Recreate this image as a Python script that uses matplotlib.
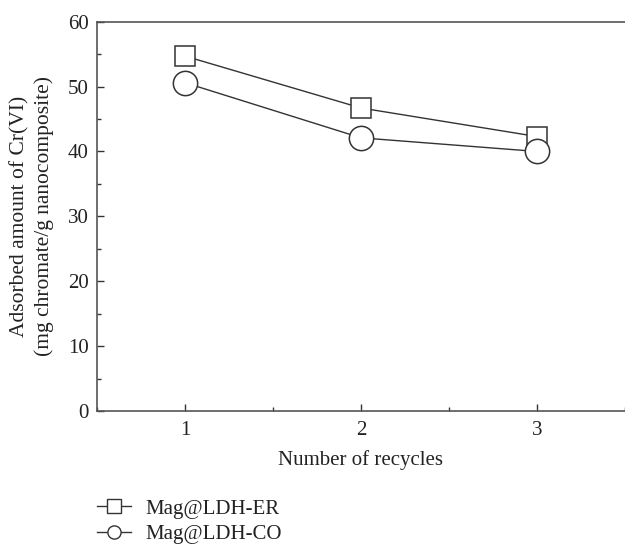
import matplotlib
matplotlib.use("Agg")
from matplotlib import pyplot as plt
from matplotlib.lines import Line2D
from matplotlib.ticker import MultipleLocator

# values
recycles = [1, 2, 3]
er_values = [54.7, 46.7, 42.3]
co_values = [50.6, 42.1, 40.0]
series_labels = ["Mag@LDH-ER", "Mag@LDH-CO"]
series_markers = ["s", "o"]

plt.rcParams['font.family'] = ['Liberation Serif', 'DejaVu Serif']
plt.rcParams['font.size'] = 15

ink = "#333333"
text_color = "#222222"
W, H = 625, 544
fig = plt.figure(figsize=(W / 100, H / 100), dpi=100)
ax = fig.add_axes([97 / W, 1 - 411 / H, 528 / W, (411 - 21.7) / H])

ax.plot(recycles, er_values, color=ink, lw=1.0, marker="s", ms=15,
        mfc="white", mec=ink, mew=1.1, zorder=3)
ax.plot(recycles, co_values, color=ink, lw=1.0, marker="o", ms=17.5,
        mfc="white", mec=ink, mew=1.1, zorder=3)

ax.set_xlim(0.5, 3.5)
ax.set_ylim(0, 60)
ax.xaxis.set_major_locator(MultipleLocator(1))
ax.xaxis.set_minor_locator(MultipleLocator(0.5))
ax.yaxis.set_major_locator(MultipleLocator(10))
ax.yaxis.set_minor_locator(MultipleLocator(5))
ax.tick_params(which="both", direction="in", colors=ink, labelcolor=text_color,
               top=False, right=False, labelsize=15)
ax.tick_params(which="major", length=5, width=1)
ax.tick_params(which="minor", length=3, width=1)
ax.tick_params(axis="x", pad=7)
ax.tick_params(axis="y", pad=6)

for side in ["left", "bottom", "top"]:
    ax.spines[side].set_color("#555555")
    ax.spines[side].set_linewidth(1.2)
ax.spines["right"].set_visible(False)

ax.set_xlabel("Number of recycles", color=text_color, fontsize=15)
ax.xaxis.set_label_coords(0.5, (411 - 460) / (411 - 21.7))
ax.xaxis.label.set_va("center")

fig.text(32 / W, 1 - 216 / H,
         "Adsorbed amount of Cr(VI)\n(mg chromate/g nanocomposite)",
         rotation=90, ha="center", va="center", multialignment="center",
         fontsize=15.5, color=text_color, linespacing=1.3)

# legend uses smaller copies of the markers
handles = [Line2D([], [], color=ink, lw=1.0, marker=m, ms=9.5, mfc="white",
                  mec=ink, mew=1.0) for m in series_markers]
fig.legend(handles, series_labels, loc="upper left",
           bbox_to_anchor=(97 / W, 1 - 499 / H), borderpad=0, borderaxespad=0,
           frameon=False, handlelength=1.63, handletextpad=0.67,
           labelspacing=0.3, fontsize=15, labelcolor=text_color)

fig.savefig("out.png", dpi=100)
